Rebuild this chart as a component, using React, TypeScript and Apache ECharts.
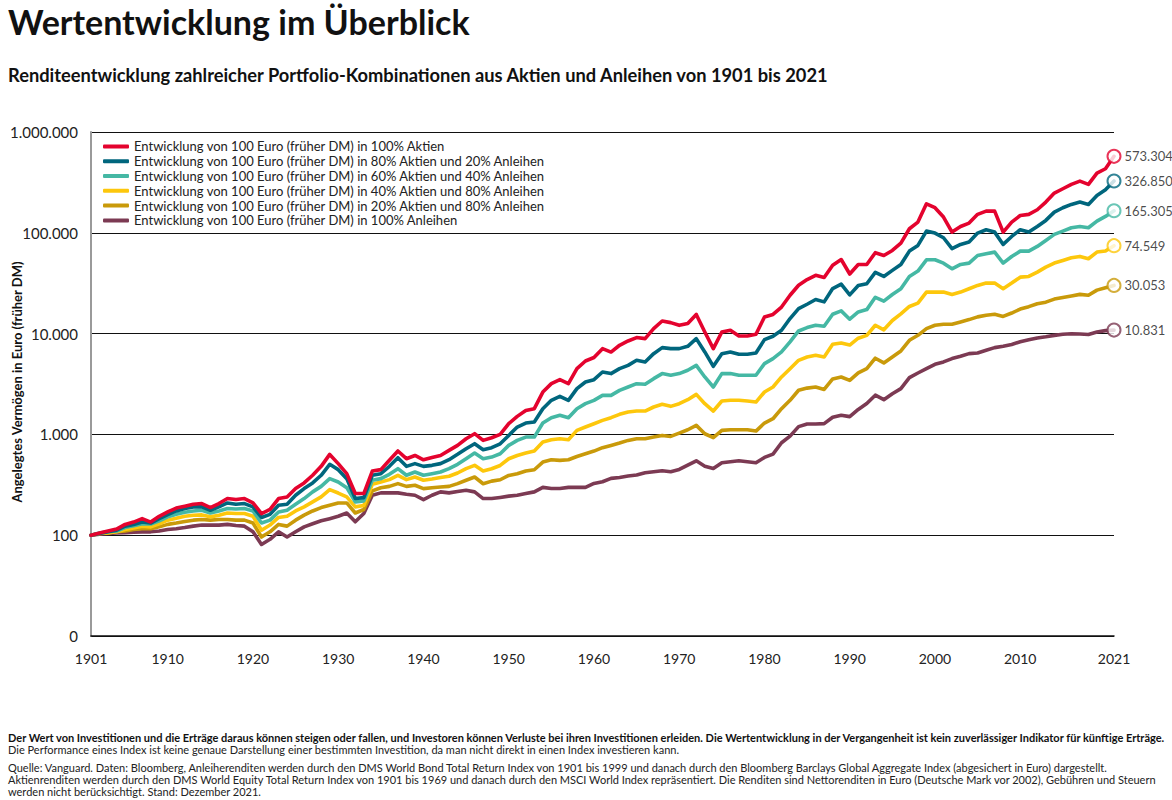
import React, { useEffect, useRef } from 'react';
import * as echarts from 'echarts';

const years: string[] = [];
for (let y = 1901; y <= 2021; y++) years.push(String(y));

// 100% Aktien
const equity100 = [
  100, 105, 110, 115, 128, 135, 146, 135, 154, 170,
  186, 194, 203, 206, 188, 206, 231, 226, 231, 209,
  164, 180, 231, 239, 290, 330, 393, 482, 633, 513,
  408, 259, 259, 433, 447, 553, 684, 574, 618, 560,
  590, 618, 694, 778, 906, 1016, 872, 927, 1000, 1277,
  1510, 1730, 1800, 2630, 3190, 3490, 3190, 4490, 5350, 5790,
  7090, 6560, 7660, 8450, 9130, 8920, 11220, 13340, 12850, 12080,
  12580, 15500, 10380, 7100, 10380, 10790, 9460, 9460, 9840, 14630,
  15500, 18350, 24000, 30200, 34400, 37900, 36000, 47600, 54300, 39000,
  48500, 48500, 63500, 59600, 66800, 79100, 109800, 127700, 194000, 177300,
  143300, 101600, 115600, 124900, 152400, 164200, 164200, 101600, 127700, 148500,
  152400, 169400, 201900, 247800, 273600, 302300, 325700, 302300, 391000, 431800,
  573304,
];
// 80% Aktien / 20% Anleihen
const equity80 = [
  100, 104, 108, 112, 123, 128, 135, 132, 146, 160,
  174, 184, 191, 191, 177, 191, 209, 203, 206, 191,
  150, 161, 198, 203, 249, 290, 330, 393, 505, 447,
  364, 231, 236, 393, 408, 482, 587, 482, 513, 482,
  493, 513, 561, 634, 721, 809, 705, 738, 807, 977,
  1183, 1296, 1326, 1799, 2178, 2384, 2178, 2844, 3312, 3491,
  4159, 4010, 4487, 4843, 5433, 5232, 6324, 7260, 7096, 7096,
  7480, 8919, 6577, 4732, 6324, 6577, 6237, 6237, 6430, 8710,
  9420, 10790, 14100, 17700, 19550, 21770, 20640, 28000, 30900, 24200,
  30000, 31200, 40500, 36880, 42360, 48570, 65820, 74940, 103900, 99300,
  89300, 69500, 76700, 80900, 99300, 107200, 101600, 76700, 92000, 107200,
  101600, 115700, 132700, 160400, 177200, 191300, 201700, 191300, 235000, 267400,
  326850,
];
// 60% Aktien / 40% Anleihen
const equity60 = [
  100, 105, 108, 110, 119, 124, 130, 129, 139, 152,
  161, 169, 174, 177, 166, 174, 184, 182, 184, 174,
  132, 141, 170, 177, 203, 231, 269, 305, 364, 337,
  296, 214, 219, 351, 364, 402, 457, 393, 424, 393,
  408, 424, 457, 505, 574, 653, 573, 596, 643, 778,
  872, 941, 941, 1296, 1465, 1545, 1465, 1799, 2018, 2178,
  2440, 2440, 2735, 2953, 3185, 3140, 3574, 4010, 3857, 4010,
  4325, 4843, 3715, 2953, 4010, 4010, 3857, 3857, 3857, 5035,
  5650, 6577, 8267, 10620, 11470, 12100, 11830, 15560, 16800, 13900,
  16400, 17300, 22900, 21010, 24450, 27850, 36880, 41690, 53970, 53970,
  50000, 43950, 48540, 50000, 59590, 61950, 64300, 50000, 58230, 65800,
  65800, 73280, 84000, 96400, 104000, 112300, 115600, 112300, 130700, 145300,
  165305,
];
// 40% Aktien
const equity40 = [
  100, 104, 105, 108, 114, 118, 123, 121, 130, 141,
  147, 154, 158, 159, 152, 158, 166, 164, 164, 154,
  112, 126, 150, 154, 174, 191, 214, 240, 283, 262,
  240, 191, 197, 320, 337, 356, 393, 356, 378, 351,
  361, 373, 384, 414, 457, 493, 433, 456, 492, 573,
  618, 653, 683, 839, 885, 906, 885, 1096, 1183, 1276,
  1377, 1465, 1581, 1667, 1706, 1706, 1870, 1987, 1898, 2018,
  2210, 2495, 2018, 1706, 2143, 2178, 2178, 2143, 2094, 2636,
  2953, 3715, 4487, 5433, 5862, 6092, 5862, 7834, 8075, 7700,
  9000, 9600, 12100, 10910, 13500, 15720, 18590, 20060, 25800, 25800,
  25800, 24440, 25800, 27870, 30070, 31700, 31700, 27870, 31700, 36300,
  36900, 40700, 45700, 50100, 53200, 56500, 58300, 55300, 64400, 65900,
  74549,
];
// 20% Aktien / 80% Anleihen
const equity20 = [
  100, 104, 106, 108, 110, 114, 116, 116, 121, 128,
  132, 137, 141, 143, 141, 143, 143, 141, 141, 132,
  96, 108, 128, 123, 141, 158, 174, 188, 198, 209,
  209, 166, 180, 275, 296, 305, 325, 305, 313, 290,
  296, 301, 305, 325, 351, 378, 324, 344, 355, 392,
  407, 433, 446, 531, 560, 552, 560, 604, 643, 683,
  738, 778, 820, 872, 906, 906, 941, 977, 955, 1031,
  1112, 1228, 1015, 927, 1096, 1112, 1112, 1112, 1079, 1296,
  1431, 1799, 2178, 2740, 2880, 2950, 2790, 3550, 3710, 3440,
  4080, 4487, 5700, 5118, 5862, 6730, 8590, 9620, 11210, 12110,
  12400, 12400, 13060, 13770, 14650, 15210, 15560, 14800, 16000, 17500,
  18500, 19800, 20500, 22000, 22800, 23600, 24500, 24000, 27000, 28500,
  30053,
];
// 100% Anleihen
const bonds100 = [
  100, 102, 104, 105, 106, 107, 108, 108, 110, 114,
  116, 119, 123, 126, 126, 126, 128, 125, 123, 108,
  81, 91, 108, 96, 108, 121, 130, 139, 146, 154,
  166, 136, 164, 249, 263, 263, 263, 255, 249, 225,
  249, 269, 263, 271, 279, 269, 231, 231, 237, 244,
  249, 259, 269, 298, 291, 291, 298, 298, 298, 326,
  339, 366, 374, 386, 395, 416, 426, 436, 426, 449,
  496, 547, 484, 459, 523, 535, 547, 535, 523, 591,
  638, 826, 961, 1195, 1270, 1270, 1280, 1480, 1550, 1500,
  1770, 2025, 2450, 2210, 2535, 2845, 3655, 4065, 4487, 4955,
  5233, 5650, 5958, 6325, 6423, 6826, 7260, 7484, 7800, 8300,
  8700, 9050, 9300, 9600, 9850, 9950, 9900, 9800, 10350, 10700,
  10831,
];

const seriesNames = [
  'Entwicklung von 100 Euro (früher DM) in 100% Aktien',
  'Entwicklung von 100 Euro (früher DM) in 80% Aktien und 20% Anleihen',
  'Entwicklung von 100 Euro (früher DM) in 60% Aktien und 40% Anleihen',
  'Entwicklung von 100 Euro (früher DM) in 40% Aktien und 80% Anleihen',
  'Entwicklung von 100 Euro (früher DM) in 20% Aktien und 80% Anleihen',
  'Entwicklung von 100 Euro (früher DM) in 100% Anleihen',
];
const seriesData = [equity100, equity80, equity60, equity40, equity20, bonds100];
const seriesColors = ['#e4032e', '#00667d', '#45b8a4', '#fdc70c', '#c99a0a', '#7c3a53'];

const yTicks = [10, 100, 1000, 10000, 100000, 1000000];

const title = 'Wertentwicklung im Überblick';
const subtitle = 'Renditeentwicklung zahlreicher Portfolio-Kombinationen aus Aktien und Anleihen von 1901 bis 2021';
const yAxisTitle = 'Angelegtes Vermögen in Euro (früher DM)';
const footerBold = 'Der Wert von Investitionen und die Erträge daraus können steigen oder fallen, und Investoren können Verluste bei ihren Investitionen erleiden. Die Wertentwicklung in der Vergangenheit ist kein zuverlässiger Indikator für künftige Erträge.';
const footerPerf = 'Die Performance eines Index ist keine genaue Darstellung einer bestimmten Investition, da man nicht direkt in einen Index investieren kann.';
const footerSource = [
  'Quelle: Vanguard. Daten: Bloomberg, Anleiherenditen werden durch den DMS World Bond Total Return Index von 1901 bis 1999 und danach durch den Bloomberg Barclays Global Aggregate Index (abgesichert in Euro) dargestellt.',
  'Aktienrenditen werden durch den DMS World Equity Total Return Index von 1901 bis 1969 und danach durch den MSCI World Index repräsentiert. Die Renditen sind Nettorenditen in Euro (Deutsche Mark vor 2002), Gebühren und Steuern',
  'werden nicht berücksichtigt. Stand: Dezember 2021.',
];

const FONT = 'Lato, "Open Sans", sans-serif';

function fmt(v: number): string {
  return String(Math.round(v)).replace(/\B(?=(\d{3})+(?!\d))/g, '.');
}

export default function App() {
  const ref = useRef<HTMLDivElement>(null);

  useEffect(() => {
    if (!ref.current) return;
    const chart = echarts.init(ref.current, undefined, { renderer: 'svg' });

    const lineSeries: any[] = [];
    for (let i = seriesData.length - 1; i >= 0; i--) {
      lineSeries.push({
        name: seriesNames[i],
        type: 'line',
        data: seriesData[i],
        showSymbol: false,
        symbol: 'none',
        smooth: false,
        lineStyle: { width: 3.6, color: seriesColors[i], cap: 'round', join: 'round' },
        itemStyle: { color: seriesColors[i] },
        z: 3,
      });
    }
    const endSeries = seriesData.map((d, i) => {
      const last = d[d.length - 1];
      return {
        name: 'end' + i,
        type: 'scatter',
        data: [[years[years.length - 1], last]],
        symbol: 'circle',
        symbolSize: 13,
        itemStyle: { color: '#ffffff', borderColor: seriesColors[i], borderWidth: 2 },
        label: {
          show: true,
          position: 'right',
          distance: 3,
          formatter: fmt(last),
          color: '#1a1a1a',
          fontSize: 13,
          fontFamily: FONT,
        },
        z: 5,
      };
    });

    const footerGraphics: any[] = [
      {
        type: 'text',
        left: 8,
        top: 732,
        style: { text: footerBold, font: 'bold 11px ' + FONT, fill: '#111' },
      },
      {
        type: 'text',
        left: 8,
        top: 744,
        style: { text: footerPerf, font: '11px ' + FONT, fill: '#222' },
      },
    ];
    footerSource.forEach((t, i) => {
      footerGraphics.push({
        type: 'text',
        left: 8,
        top: 762 + i * 12,
        style: { text: t, font: '11px ' + FONT, fill: '#222' },
      });
    });

    chart.setOption({
      animation: false,
      backgroundColor: '#ffffff',
      textStyle: { fontFamily: FONT },
      grid: { left: 91, top: 132, width: 1023, height: 504, containLabel: false },
      legend: {
        data: seriesNames,
        orient: 'vertical',
        left: 103,
        top: 139,
        padding: 0,
        icon: 'roundRect',
        itemWidth: 26,
        itemHeight: 4,
        itemGap: 0,
        textStyle: { fontSize: 13, color: '#222', lineHeight: 14.8, fontFamily: FONT },
        selectedMode: false,
      },
      xAxis: {
        type: 'category',
        data: years,
        boundaryGap: false,
        axisLine: { show: true, lineStyle: { color: '#111', width: 1.5 } },
        axisTick: { show: false },
        axisLabel: {
          interval: (idx: number, val: string) => {
            const y = Number(val);
            return y === 1901 || y === 2021 || (y % 10 === 0 && y !== 2020);
          },
          fontSize: 14,
          color: '#222',
          margin: 15,
          fontFamily: FONT,
        },
        splitLine: { show: false },
      },
      yAxis: {
        type: 'log',
        logBase: 10,
        min: yTicks[0],
        max: yTicks[yTicks.length - 1],
        axisLine: { show: true, lineStyle: { color: '#9a9a9a', width: 2 } },
        axisTick: { show: false },
        axisLabel: {
          formatter: (v: number) => (v <= yTicks[0] ? '0' : fmt(v)),
          fontSize: 15,
          color: '#222',
          margin: 13,
          fontFamily: FONT,
        },
        splitLine: { show: true, lineStyle: { color: '#111', width: 1 } },
        minorSplitLine: { show: false },
      },
      series: [...lineSeries, ...endSeries],
      graphic: [
        {
          type: 'text',
          left: 8,
          top: 4,
          style: { text: title, font: 'bold 34px ' + FONT, fill: '#111' },
        },
        {
          type: 'text',
          left: 8,
          top: 66,
          style: { text: subtitle, font: 'bold 18.3px ' + FONT, fill: '#111' },
        },
        {
          type: 'text',
          x: 17,
          y: 382,
          rotation: Math.PI / 2,
          style: {
            text: yAxisTitle,
            font: 'bold 13px ' + FONT,
            fill: '#111',
            align: 'center',
            verticalAlign: 'middle',
          },
        },
        ...footerGraphics,
      ],
    });

    return () => chart.dispose();
  }, []);

  return (
    <div
      ref={ref}
      style={{ position: 'fixed', left: 0, top: 0, width: 1172, height: 800, background: '#fff' }}
    />
  );
}
